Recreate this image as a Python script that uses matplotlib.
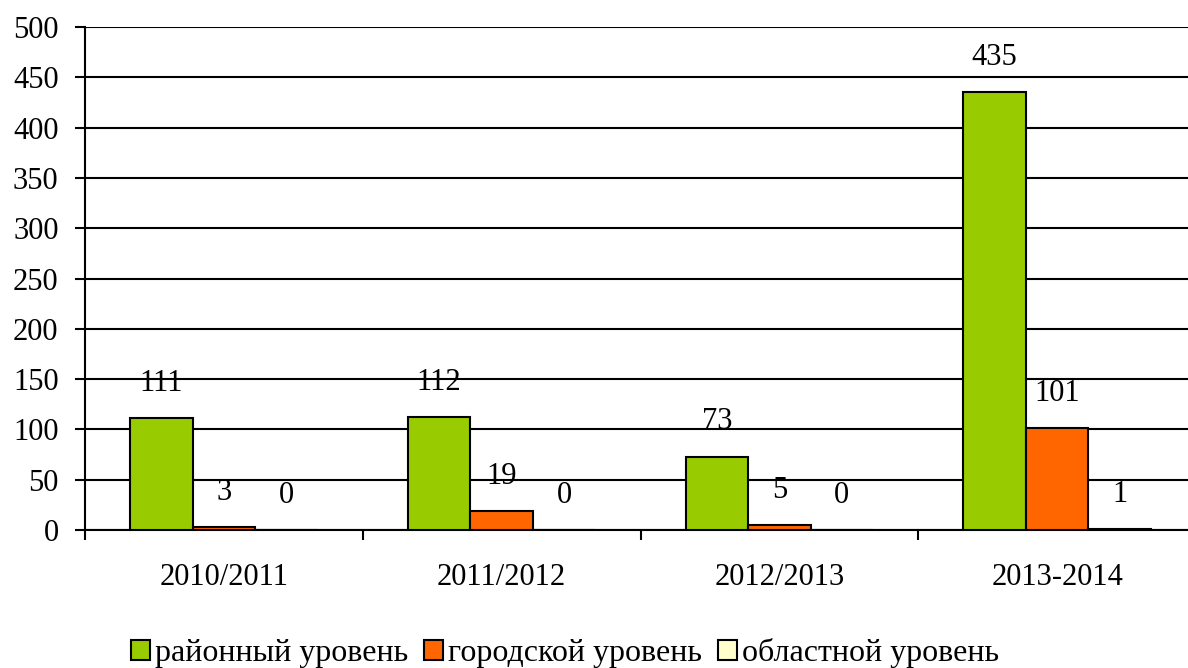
import numpy as np
import matplotlib.pyplot as plt

plt.rcParams['font.family'] = ['Liberation Serif', 'DejaVu Serif']

# Data
years = ['2010/2011', '2011/2012', '2012/2013', '2013-2014']
series_names = ['районный уровень', 'городской уровень', 'областной уровень']
district = [111, 112, 73, 435]
city = [3, 19, 5, 101]
region = [0, 0, 0, 1]
colors = ['#99CC00', '#FF6600', '#FFFFCC']

fig = plt.figure(figsize=(11.88, 6.68), dpi=100)
ax = fig.add_axes([85 / 1188, 1 - 530 / 668, 1111 / 1188, 503 / 668])

x = np.arange(len(years))
width = 0.225
for i, (vals, name) in enumerate(zip([district, city, region], series_names)):
    pos = x + (i - 1) * width
    ax.bar(pos, vals, width, color=colors[i], edgecolor='black', linewidth=1.5,
           label=name, zorder=3)
    for p, v in zip(pos, vals):
        ax.annotate(str(v), (p, v), xytext=(0, 25), textcoords='offset points',
                    ha='center', va='center', fontsize=22)

ax.set_xlim(-0.5, len(years) - 0.5)
ax.set_ylim(0, 500)
ax.set_yticks(np.arange(0, 501, 50))
ax.yaxis.grid(True, color='black', linewidth=1.5, zorder=0)
ax.set_axisbelow(True)

ax.set_xticks(np.arange(len(years) + 1) - 0.5)
ax.set_xticklabels([])
ax.set_xticks(x, minor=True)
ax.set_xticklabels(years, minor=True)
ax.tick_params(axis='x', which='major', length=7, width=1.5, direction='out')
ax.tick_params(axis='x', which='minor', length=0, pad=24, labelsize=22)
ax.tick_params(axis='y', length=7, width=1.5, labelsize=22, pad=12)

for s in ['top', 'right']:
    ax.spines[s].set_visible(False)
ax.spines['left'].set_linewidth(1.5)
ax.spines['bottom'].set_linewidth(1.5)

fig.legend(loc='center', bbox_to_anchor=(565 / 1188, 1 - 653 / 668), ncol=3,
           frameon=False, fontsize=23, handlelength=0.6, handleheight=0.6,
           handletextpad=0.15, columnspacing=0.5)

fig.savefig('out.png', dpi=100)
